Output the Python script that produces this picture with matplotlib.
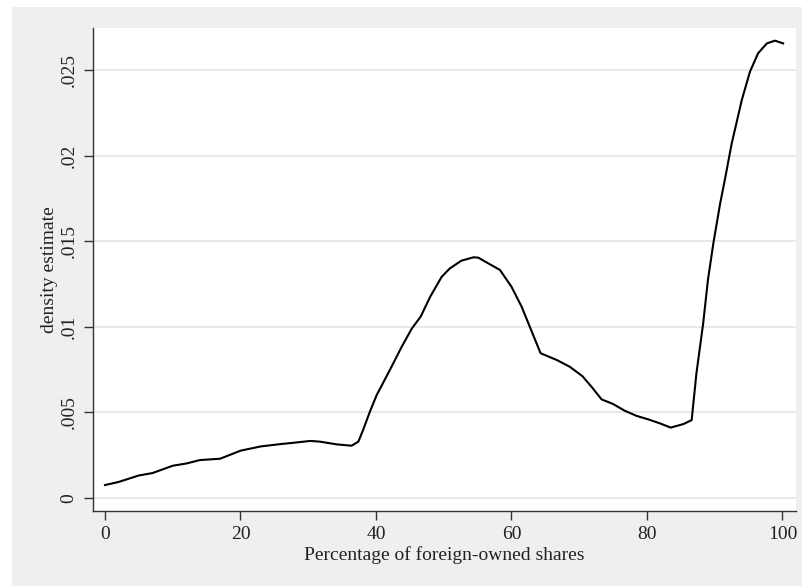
import numpy as np
import matplotlib
matplotlib.use('Agg')
import matplotlib.pyplot as plt
from matplotlib.patches import Rectangle

# density estimate
share = [0, 2, 5, 7, 10, 12, 14, 17, 20, 23, 26, 28, 30.3, 31.7, 34.2, 36.4,
         37.4, 38.1, 39.1, 40.1, 41.3, 42.3, 43.8, 45.3, 46.6, 48.0, 49.7,
         50.9, 52.6, 54.4, 55.1, 56.6, 58.3, 60.0, 61.5, 63.0, 64.3, 66.7,
         68.6, 70.5, 72.0, 73.3, 75.0, 76.7, 78.5, 80.2, 81.9, 83.5, 85.4,
         86.6, 87.3, 88.3, 89.0, 89.8, 90.8, 91.5, 92.5, 94.0, 95.2, 96.4,
         97.7, 98.9, 100.1]
density = [0.00074, 0.00092, 0.0013, 0.00144, 0.00187, 0.0020, 0.0022,
           0.00228, 0.00275, 0.0030, 0.00314, 0.00322, 0.00332, 0.00328,
           0.00312, 0.00304, 0.00328, 0.00396, 0.00503, 0.0060, 0.0069,
           0.00766, 0.00883, 0.0099, 0.01059, 0.01175, 0.01292, 0.01341,
           0.01386, 0.01406, 0.01404, 0.0137, 0.01332, 0.01234, 0.01117,
           0.00971, 0.00845, 0.00805, 0.00766, 0.0071, 0.0064, 0.00575,
           0.00548, 0.00509, 0.00478, 0.00458, 0.00435, 0.0041, 0.00431,
           0.00454, 0.00727, 0.0102, 0.01273, 0.01488, 0.0172, 0.0186,
           0.0207, 0.02326, 0.02491, 0.02599, 0.02657, 0.02673, 0.02657]

xticks = [0, 20, 40, 60, 80, 100]
yticks = [0, 0.005, 0.01, 0.015, 0.02, 0.025]
ylabels = ['0', '.005', '.01', '.015', '.02', '.025']

plt.rcParams['font.family'] = ['Liberation Serif', 'DejaVu Serif']

W, H = 803, 586
fig = plt.figure(figsize=(W / 100, H / 100), dpi=100)
fig.patch.set_facecolor('white')
bg = Rectangle((12 / W, 0), 1, (H - 7) / H, transform=fig.transFigure,
               facecolor='#efefef', edgecolor='none', zorder=-10)
fig.add_artist(bg)

ax = fig.add_axes([93 / W, 1 - 510.7 / H, (796 - 93) / W, (510.7 - 28) / H])
ax.set_facecolor('white')
ax.plot(share, density, color='black', lw=1.5)

ax.set_xlim(-1.77, 102)
ax.set_ylim(-0.00076, 0.02747)
ax.set_xticks(xticks)
ax.set_yticks(yticks)
ax.set_yticklabels(ylabels, rotation=90, va='center')
ax.grid(axis='y', color='#e6e6e6', lw=1.3)
ax.set_axisbelow(True)

for s in ['top', 'right']:
    ax.spines[s].set_visible(False)
for s in ['left', 'bottom']:
    ax.spines[s].set_color('#333333')
    ax.spines[s].set_linewidth(1.0)

ax.tick_params(direction='out', length=6.3, width=1.0, color='#333333',
               labelsize=14, labelcolor='#222222')
ax.tick_params(axis='x', pad=5)
ax.tick_params(axis='y', pad=5)

ax.set_xlabel('Percentage of foreign-owned shares', fontsize=14, color='#222222', labelpad=2)
ax.set_ylabel('density estimate', fontsize=14, color='#222222', labelpad=1.5)

fig.savefig('out.png', dpi=100)
